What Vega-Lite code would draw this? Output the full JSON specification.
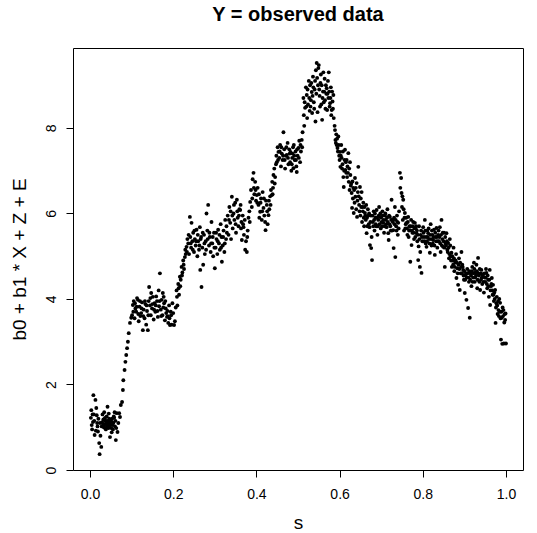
{
"$schema": "https://vega.github.io/schema/vega-lite/v6.json",
"width": 450, "height": 422,
"autosize": {"type": "none"},
"padding": {"left": 73, "top": 48, "right": 14, "bottom": 63},
"background": "white",
"title": {"text": "Y = observed data", "fontSize": 20, "fontWeight": "bold", "font": "Liberation Sans", "color": "black", "anchor": "middle", "frame": "group", "offset": 7, "baseline": "alphabetic"},
"config": {"view": {"stroke": "black", "strokeWidth": 1}, "axis": {"grid": false, "domain": false, "tickColor": "black", "tickSize": 7, "labelFont": "Liberation Sans", "labelFontSize": 14, "labelColor": "black", "titleFont": "Liberation Sans", "titleFontSize": 19, "titleFontWeight": "normal", "titleColor": "black", "labelOverlap": false, "labelBound": false, "labelFlush": false}},
"data": {"values": [
{"s":0.002,"y":1.22},{"s":0.004,"y":1.05},{"s":0.005,"y":0.95},{"s":0.006,"y":1.30},{"s":0.008,"y":1.75},{"s":0.010,"y":1.15},{"s":0.011,"y":0.82},{"s":0.013,"y":1.64},{"s":0.014,"y":0.92},{"s":0.015,"y":1.45},{"s":0.016,"y":1.28},{"s":0.018,"y":1.02},{"s":0.020,"y":1.20},{"s":0.022,"y":0.63},{"s":0.023,"y":0.37},{"s":0.024,"y":1.10},{"s":0.025,"y":0.80},{"s":0.027,"y":0.54},{"s":0.028,"y":1.02},{"s":0.030,"y":1.30},{"s":0.031,"y":1.08},{"s":0.032,"y":1.18},{"s":0.033,"y":1.00},{"s":0.034,"y":1.35},{"s":0.035,"y":1.18},{"s":0.036,"y":0.98},{"s":0.037,"y":1.15},{"s":0.038,"y":1.08},{"s":0.039,"y":1.12},{"s":0.040,"y":1.25},{"s":0.041,"y":1.02},{"s":0.042,"y":1.48},{"s":0.043,"y":1.05},{"s":0.044,"y":1.12},{"s":0.045,"y":1.32},{"s":0.046,"y":1.00},{"s":0.047,"y":1.10},{"s":0.048,"y":0.77},{"s":0.050,"y":1.15},{"s":0.051,"y":0.98},{"s":0.052,"y":0.88},{"s":0.053,"y":1.20},{"s":0.054,"y":1.05},{"s":0.055,"y":0.95},{"s":0.056,"y":1.10},{"s":0.057,"y":1.25},{"s":0.058,"y":1.22},{"s":0.060,"y":1.02},{"s":0.062,"y":0.70},{"s":0.064,"y":1.33},{"s":0.066,"y":0.89},{"s":0.068,"y":1.10},{"s":0.070,"y":1.33},{"s":0.072,"y":1.24},{"s":0.074,"y":1.52},{"s":0.077,"y":1.59},{"s":0.079,"y":1.87},{"s":0.080,"y":2.10},{"s":0.083,"y":2.34},{"s":0.085,"y":2.53},{"s":0.087,"y":2.69},{"s":0.089,"y":2.85},{"s":0.091,"y":3.00},{"s":0.093,"y":3.20},{"s":0.096,"y":3.44},{"s":0.099,"y":3.56},
{"s":0.029,"y":1.12},{"s":0.034,"y":1.05},{"s":0.036,"y":1.22},{"s":0.038,"y":0.95},{"s":0.040,"y":1.10},{"s":0.042,"y":1.15},{"s":0.044,"y":0.98},{"s":0.046,"y":1.20},{"s":0.049,"y":1.05},{"s":0.052,"y":1.12},{"s":0.017,"y":1.10},{"s":0.019,"y":0.90},{"s":0.009,"y":1.30},{"s":0.003,"y":1.40},{"s":0.007,"y":1.12},{"s":0.059,"y":1.35},{"s":0.061,"y":1.15},{"s":0.063,"y":0.98},
{"s":0.101,"y":3.62},{"s":0.103,"y":3.86},{"s":0.105,"y":3.95},{"s":0.107,"y":3.55},{"s":0.109,"y":3.78},{"s":0.111,"y":3.70},{"s":0.113,"y":4.02},{"s":0.115,"y":3.98},{"s":0.117,"y":3.48},{"s":0.119,"y":3.82},{"s":0.121,"y":3.60},{"s":0.123,"y":3.67},{"s":0.125,"y":3.92},{"s":0.127,"y":3.27},{"s":0.129,"y":3.75},{"s":0.131,"y":3.55},{"s":0.133,"y":3.88},{"s":0.135,"y":3.40},{"s":0.137,"y":3.72},{"s":0.139,"y":3.27},{"s":0.141,"y":3.95},{"s":0.142,"y":4.28},{"s":0.144,"y":3.85},{"s":0.146,"y":3.62},{"s":0.147,"y":4.14},{"s":0.149,"y":3.78},{"s":0.151,"y":4.05},{"s":0.153,"y":3.52},{"s":0.155,"y":3.90},{"s":0.157,"y":3.70},{"s":0.159,"y":4.06},{"s":0.161,"y":3.95},{"s":0.163,"y":3.58},{"s":0.165,"y":4.20},{"s":0.166,"y":3.83},{"s":0.168,"y":4.60},{"s":0.170,"y":3.75},{"s":0.172,"y":3.98},{"s":0.174,"y":3.62},{"s":0.175,"y":4.14},{"s":0.177,"y":4.05},{"s":0.178,"y":3.90},{"s":0.180,"y":3.50},{"s":0.182,"y":3.78},{"s":0.183,"y":3.67},{"s":0.185,"y":3.58},{"s":0.187,"y":3.60},{"s":0.188,"y":3.44},{"s":0.190,"y":3.85},{"s":0.192,"y":3.39},{"s":0.194,"y":3.70},{"s":0.196,"y":3.40},{"s":0.198,"y":3.90},{"s":0.200,"y":3.67},{"s":0.202,"y":3.39},{"s":0.204,"y":3.48},{"s":0.206,"y":3.80},
{"s":0.104,"y":3.70},{"s":0.108,"y":3.90},{"s":0.112,"y":3.82},{"s":0.116,"y":3.65},{"s":0.120,"y":3.95},{"s":0.124,"y":3.78},{"s":0.128,"y":3.60},{"s":0.132,"y":3.95},{"s":0.136,"y":3.85},{"s":0.140,"y":3.62},{"s":0.145,"y":4.02},{"s":0.150,"y":3.88},{"s":0.154,"y":3.75},{"s":0.158,"y":3.85},{"s":0.162,"y":3.72},{"s":0.167,"y":3.95},{"s":0.171,"y":3.60},{"s":0.176,"y":3.80},{"s":0.181,"y":3.95},{"s":0.186,"y":3.72},{"s":0.191,"y":3.55},{"s":0.195,"y":3.62},
{"s":0.208,"y":4.20},{"s":0.210,"y":3.85},{"s":0.212,"y":4.35},{"s":0.214,"y":4.10},{"s":0.216,"y":4.52},{"s":0.218,"y":4.45},{"s":0.220,"y":4.75},{"s":0.222,"y":4.62},{"s":0.224,"y":4.90},{"s":0.226,"y":4.70},{"s":0.228,"y":4.98},{"s":0.230,"y":5.05},{"s":0.232,"y":5.22},{"s":0.234,"y":5.40},
{"s":0.209,"y":4.05},{"s":0.213,"y":4.25},{"s":0.217,"y":4.30},{"s":0.221,"y":4.55},{"s":0.225,"y":4.80},{"s":0.229,"y":5.15},{"s":0.233,"y":5.10},
{"s":0.236,"y":5.30},{"s":0.238,"y":5.05},{"s":0.240,"y":5.92},{"s":0.241,"y":5.45},{"s":0.243,"y":5.20},{"s":0.244,"y":5.78},{"s":0.246,"y":5.35},{"s":0.248,"y":5.55},{"s":0.250,"y":5.10},{"s":0.252,"y":5.40},{"s":0.254,"y":5.25},{"s":0.256,"y":5.62},{"s":0.258,"y":5.00},{"s":0.260,"y":5.35},{"s":0.262,"y":5.15},{"s":0.264,"y":5.68},{"s":0.265,"y":4.68},{"s":0.267,"y":5.45},{"s":0.268,"y":4.28},{"s":0.270,"y":5.20},{"s":0.272,"y":4.80},{"s":0.274,"y":5.50},{"s":0.276,"y":5.05},{"s":0.278,"y":5.35},{"s":0.280,"y":6.00},{"s":0.282,"y":5.60},{"s":0.284,"y":6.20},{"s":0.286,"y":5.25},{"s":0.288,"y":5.45},{"s":0.290,"y":5.10},{"s":0.292,"y":5.80},{"s":0.294,"y":5.30},{"s":0.296,"y":5.00},{"s":0.298,"y":5.55},{"s":0.300,"y":4.72},{"s":0.302,"y":5.20},{"s":0.304,"y":5.40},{"s":0.306,"y":5.05},{"s":0.308,"y":5.62},{"s":0.310,"y":5.30},{"s":0.312,"y":5.15},{"s":0.314,"y":5.75},{"s":0.316,"y":5.45},{"s":0.317,"y":4.87},{"s":0.319,"y":5.25},{"s":0.321,"y":5.60},{"s":0.323,"y":5.10},{"s":0.325,"y":5.85},{"s":0.327,"y":5.40},{"s":0.329,"y":5.55},
{"s":0.237,"y":5.50},{"s":0.242,"y":5.30},{"s":0.247,"y":5.15},{"s":0.251,"y":5.60},{"s":0.255,"y":5.35},{"s":0.259,"y":5.50},{"s":0.263,"y":5.25},{"s":0.266,"y":5.40},{"s":0.271,"y":5.55},{"s":0.275,"y":5.30},{"s":0.279,"y":5.15},{"s":0.283,"y":5.40},{"s":0.287,"y":5.55},{"s":0.291,"y":5.30},{"s":0.295,"y":5.45},{"s":0.299,"y":5.20},{"s":0.303,"y":5.55},{"s":0.307,"y":5.35},{"s":0.311,"y":5.50},{"s":0.315,"y":5.20},{"s":0.320,"y":5.45},{"s":0.324,"y":5.30},{"s":0.328,"y":5.70},
{"s":0.331,"y":5.95},{"s":0.333,"y":5.50},{"s":0.335,"y":6.15},{"s":0.337,"y":5.78},{"s":0.339,"y":5.40},{"s":0.341,"y":6.39},{"s":0.343,"y":5.65},{"s":0.345,"y":6.00},{"s":0.347,"y":5.85},{"s":0.349,"y":6.25},{"s":0.351,"y":5.55},{"s":0.353,"y":6.32},{"s":0.355,"y":5.90},{"s":0.357,"y":5.70},{"s":0.359,"y":6.10},{"s":0.361,"y":6.08},{"s":0.362,"y":6.20},{"s":0.364,"y":5.80},{"s":0.365,"y":5.38},{"s":0.367,"y":5.95},{"s":0.369,"y":5.68},{"s":0.370,"y":5.50},{"s":0.372,"y":5.85},{"s":0.373,"y":5.15},{"s":0.375,"y":5.35},{"s":0.377,"y":5.10},{"s":0.379,"y":5.60},{"s":0.381,"y":5.90},{"s":0.383,"y":6.05},{"s":0.385,"y":6.27},{"s":0.387,"y":6.55},{"s":0.389,"y":6.15},{"s":0.391,"y":6.80},{"s":0.393,"y":6.95},{"s":0.395,"y":6.45},{"s":0.397,"y":6.74},{"s":0.399,"y":6.30},{"s":0.401,"y":6.43},{"s":0.403,"y":6.60},{"s":0.405,"y":6.20},{"s":0.407,"y":5.90},{"s":0.409,"y":6.04},{"s":0.411,"y":6.35},{"s":0.413,"y":5.85},{"s":0.415,"y":6.50},{"s":0.417,"y":6.13},{"s":0.419,"y":5.95},{"s":0.421,"y":5.80},{"s":0.422,"y":5.61},{"s":0.423,"y":6.30},{"s":0.425,"y":6.20},{"s":0.427,"y":5.75},{"s":0.429,"y":5.96},{"s":0.431,"y":6.10},{"s":0.433,"y":6.40},{"s":0.435,"y":6.55},{"s":0.437,"y":6.43},{"s":0.438,"y":6.74},{"s":0.440,"y":6.60},{"s":0.441,"y":6.90},{"s":0.443,"y":7.05},{"s":0.445,"y":6.85},
{"s":0.334,"y":5.85},{"s":0.338,"y":6.05},{"s":0.342,"y":5.95},{"s":0.346,"y":6.20},{"s":0.350,"y":5.75},{"s":0.354,"y":6.05},{"s":0.358,"y":5.95},{"s":0.363,"y":5.65},{"s":0.368,"y":5.75},{"s":0.378,"y":5.45},{"s":0.384,"y":5.80},{"s":0.390,"y":6.35},{"s":0.394,"y":6.60},{"s":0.398,"y":6.55},{"s":0.402,"y":6.25},{"s":0.406,"y":6.45},{"s":0.410,"y":6.25},{"s":0.414,"y":6.05},{"s":0.418,"y":6.35},{"s":0.426,"y":6.05},{"s":0.430,"y":6.30},{"s":0.434,"y":6.20},{"s":0.439,"y":6.45},{"s":0.444,"y":6.70},
{"s":0.447,"y":7.15},{"s":0.449,"y":7.20},{"s":0.451,"y":7.55},{"s":0.453,"y":7.44},{"s":0.455,"y":7.30},{"s":0.457,"y":7.60},{"s":0.459,"y":7.10},{"s":0.461,"y":7.40},{"s":0.463,"y":7.25},{"s":0.465,"y":7.90},{"s":0.467,"y":7.50},{"s":0.469,"y":7.05},{"s":0.471,"y":7.35},{"s":0.473,"y":7.37},{"s":0.475,"y":7.65},{"s":0.477,"y":7.15},{"s":0.479,"y":7.50},{"s":0.481,"y":7.20},{"s":0.482,"y":7.44},{"s":0.484,"y":7.00},{"s":0.486,"y":7.30},{"s":0.488,"y":7.55},{"s":0.489,"y":7.06},{"s":0.490,"y":7.60},{"s":0.492,"y":7.25},{"s":0.494,"y":7.45},{"s":0.496,"y":7.10},{"s":0.497,"y":6.97},{"s":0.499,"y":7.35},{"s":0.501,"y":7.53},{"s":0.503,"y":7.70},{"s":0.505,"y":7.20},{"s":0.507,"y":7.45},{"s":0.509,"y":7.72},{"s":0.511,"y":7.90},
{"s":0.448,"y":7.35},{"s":0.452,"y":7.25},{"s":0.456,"y":7.45},{"s":0.460,"y":7.55},{"s":0.464,"y":7.35},{"s":0.468,"y":7.25},{"s":0.472,"y":7.55},{"s":0.476,"y":7.30},{"s":0.480,"y":7.40},{"s":0.485,"y":7.15},{"s":0.487,"y":7.40},{"s":0.491,"y":7.35},{"s":0.495,"y":7.25},{"s":0.498,"y":7.50},{"s":0.502,"y":7.30},{"s":0.506,"y":7.60},{"s":0.510,"y":7.55},
{"s":0.513,"y":8.70},{"s":0.514,"y":8.30},{"s":0.515,"y":8.05},{"s":0.517,"y":8.47},{"s":0.519,"y":8.95},{"s":0.521,"y":8.77},{"s":0.522,"y":8.23},{"s":0.524,"y":8.55},{"s":0.526,"y":9.10},{"s":0.528,"y":8.40},{"s":0.529,"y":9.00},{"s":0.531,"y":8.65},{"s":0.533,"y":8.84},{"s":0.534,"y":8.35},{"s":0.536,"y":9.20},{"s":0.538,"y":8.60},{"s":0.540,"y":8.90},{"s":0.542,"y":8.15},{"s":0.543,"y":9.35},{"s":0.545,"y":9.52},{"s":0.546,"y":9.17},{"s":0.547,"y":8.37},{"s":0.549,"y":9.40},{"s":0.550,"y":9.47},{"s":0.552,"y":8.75},{"s":0.554,"y":9.05},{"s":0.556,"y":8.55},{"s":0.557,"y":9.00},{"s":0.558,"y":8.19},{"s":0.560,"y":8.85},{"s":0.561,"y":9.30},{"s":0.562,"y":8.60},{"s":0.564,"y":9.15},{"s":0.566,"y":8.45},{"s":0.568,"y":8.80},{"s":0.569,"y":8.93},{"s":0.570,"y":8.42},{"s":0.572,"y":9.10},{"s":0.573,"y":8.70},{"s":0.574,"y":9.30},{"s":0.576,"y":8.50},{"s":0.577,"y":8.58},{"s":0.579,"y":8.95},{"s":0.581,"y":8.42},{"s":0.583,"y":8.62},{"s":0.585,"y":8.77},{"s":0.586,"y":8.23},
{"s":0.516,"y":8.60},{"s":0.520,"y":8.50},{"s":0.523,"y":8.90},{"s":0.527,"y":8.70},{"s":0.530,"y":8.50},{"s":0.532,"y":9.05},{"s":0.535,"y":8.75},{"s":0.537,"y":8.95},{"s":0.539,"y":8.45},{"s":0.541,"y":9.10},{"s":0.544,"y":8.80},{"s":0.548,"y":9.00},{"s":0.551,"y":8.90},{"s":0.553,"y":8.50},{"s":0.555,"y":9.25},{"s":0.559,"y":8.70},{"s":0.563,"y":8.85},{"s":0.565,"y":8.65},{"s":0.567,"y":9.00},{"s":0.571,"y":8.80},{"s":0.575,"y":8.85},{"s":0.578,"y":8.70},{"s":0.580,"y":8.30},{"s":0.582,"y":8.85},{"s":0.584,"y":8.45},
{"s":0.588,"y":8.05},{"s":0.589,"y":7.95},{"s":0.590,"y":7.72},{"s":0.592,"y":7.85},{"s":0.593,"y":7.60},{"s":0.595,"y":7.53},{"s":0.597,"y":7.80},{"s":0.599,"y":7.35},{"s":0.601,"y":7.44},{"s":0.602,"y":7.09},{"s":0.604,"y":7.60},{"s":0.605,"y":7.30},{"s":0.607,"y":7.15},{"s":0.609,"y":6.85},{"s":0.610,"y":6.62},{"s":0.612,"y":7.25},{"s":0.613,"y":7.49},{"s":0.614,"y":7.02},{"s":0.616,"y":6.95},{"s":0.617,"y":7.25},{"s":0.619,"y":7.10},{"s":0.621,"y":7.41},{"s":0.622,"y":6.74},{"s":0.624,"y":6.55},{"s":0.625,"y":7.20},{"s":0.626,"y":6.90},{"s":0.628,"y":6.70},{"s":0.629,"y":6.48},{"s":0.630,"y":6.13},{"s":0.632,"y":6.35},{"s":0.633,"y":6.60},{"s":0.634,"y":6.01},{"s":0.636,"y":6.25},{"s":0.637,"y":6.83},{"s":0.638,"y":6.39},{"s":0.640,"y":6.10},{"s":0.641,"y":6.71},{"s":0.642,"y":5.92},{"s":0.644,"y":6.50},{"s":0.645,"y":7.09},{"s":0.647,"y":6.20},{"s":0.649,"y":6.62},{"s":0.650,"y":5.95},{"s":0.652,"y":6.15},{"s":0.654,"y":5.80},{"s":0.656,"y":6.05},{"s":0.657,"y":6.25},{"s":0.659,"y":5.70},{"s":0.661,"y":6.01},{"s":0.663,"y":5.85},{"s":0.665,"y":5.54},{"s":0.666,"y":5.90},{"s":0.668,"y":6.10},{"s":0.670,"y":5.75},{"s":0.672,"y":5.68},{"s":0.673,"y":5.26},{"s":0.675,"y":5.95},{"s":0.676,"y":5.19},{"s":0.677,"y":5.45},{"s":0.678,"y":4.91},
{"s":0.591,"y":7.65},{"s":0.594,"y":7.75},{"s":0.596,"y":7.45},{"s":0.598,"y":7.60},{"s":0.600,"y":7.25},{"s":0.603,"y":7.35},{"s":0.606,"y":7.05},{"s":0.608,"y":7.45},{"s":0.611,"y":7.00},{"s":0.615,"y":7.20},{"s":0.618,"y":6.85},{"s":0.620,"y":6.95},{"s":0.623,"y":7.05},{"s":0.627,"y":6.65},{"s":0.631,"y":6.75},{"s":0.635,"y":6.55},{"s":0.639,"y":6.60},{"s":0.643,"y":6.30},{"s":0.646,"y":6.40},{"s":0.648,"y":6.05},{"s":0.651,"y":6.35},{"s":0.653,"y":6.50},{"s":0.655,"y":6.15},{"s":0.658,"y":5.90},{"s":0.660,"y":6.15},{"s":0.662,"y":5.95},{"s":0.664,"y":6.20},{"s":0.667,"y":5.70},{"s":0.669,"y":5.95},{"s":0.671,"y":6.00},{"s":0.674,"y":5.80},
{"s":0.680,"y":5.80},{"s":0.682,"y":6.05},{"s":0.684,"y":5.60},{"s":0.686,"y":5.90},{"s":0.688,"y":5.70},{"s":0.689,"y":6.08},{"s":0.691,"y":5.50},{"s":0.693,"y":5.85},{"s":0.695,"y":6.15},{"s":0.697,"y":5.92},{"s":0.699,"y":5.65},{"s":0.701,"y":5.80},{"s":0.703,"y":6.05},{"s":0.705,"y":5.78},{"s":0.707,"y":5.55},{"s":0.709,"y":5.95},{"s":0.711,"y":5.85},{"s":0.713,"y":5.68},{"s":0.715,"y":6.10},{"s":0.717,"y":5.54},{"s":0.718,"y":5.38},{"s":0.720,"y":5.75},{"s":0.721,"y":5.92},{"s":0.723,"y":5.60},{"s":0.725,"y":6.32},{"s":0.727,"y":5.85},{"s":0.729,"y":5.61},{"s":0.730,"y":5.19},{"s":0.731,"y":5.90},{"s":0.733,"y":6.15},{"s":0.734,"y":4.98},{"s":0.736,"y":5.70},{"s":0.738,"y":5.95},{"s":0.740,"y":5.50},{"s":0.741,"y":5.78},{"s":0.743,"y":6.05},{"s":0.745,"y":6.95},{"s":0.746,"y":6.60},{"s":0.748,"y":6.83},{"s":0.749,"y":6.48},{"s":0.750,"y":6.15},{"s":0.752,"y":5.85},{"s":0.753,"y":6.32},{"s":0.755,"y":5.60},{"s":0.757,"y":6.01},{"s":0.759,"y":5.75},{"s":0.761,"y":5.78},{"s":0.763,"y":5.50},{"s":0.765,"y":5.92},{"s":0.766,"y":5.45},{"s":0.768,"y":5.70},{"s":0.769,"y":5.61},{"s":0.770,"y":4.87},{"s":0.772,"y":5.85},{"s":0.773,"y":5.26},{"s":0.775,"y":5.55},{"s":0.777,"y":5.80},{"s":0.779,"y":5.40},{"s":0.781,"y":5.78},{"s":0.783,"y":5.65},{"s":0.785,"y":5.54},{"s":0.787,"y":5.35},{"s":0.789,"y":4.91},{"s":0.790,"y":5.23},{"s":0.791,"y":5.70},{"s":0.793,"y":4.75},{"s":0.794,"y":5.10},{"s":0.795,"y":5.50},{"s":0.797,"y":4.61},{"s":0.799,"y":5.35},
{"s":0.679,"y":5.95},{"s":0.681,"y":5.70},{"s":0.683,"y":5.85},{"s":0.685,"y":6.00},{"s":0.687,"y":5.75},{"s":0.690,"y":5.90},{"s":0.692,"y":5.70},{"s":0.694,"y":5.95},{"s":0.696,"y":5.75},{"s":0.698,"y":6.00},{"s":0.700,"y":5.90},{"s":0.702,"y":5.70},{"s":0.704,"y":5.95},{"s":0.706,"y":5.85},{"s":0.708,"y":5.70},{"s":0.710,"y":6.00},{"s":0.712,"y":5.75},{"s":0.714,"y":5.90},{"s":0.716,"y":5.80},{"s":0.719,"y":5.95},{"s":0.722,"y":5.70},{"s":0.724,"y":5.85},{"s":0.726,"y":5.60},{"s":0.728,"y":5.80},{"s":0.732,"y":5.75},{"s":0.735,"y":5.85},{"s":0.737,"y":5.60},{"s":0.739,"y":5.80},{"s":0.742,"y":5.65},{"s":0.751,"y":6.40},{"s":0.754,"y":6.10},{"s":0.756,"y":5.90},{"s":0.758,"y":5.65},{"s":0.760,"y":5.90},{"s":0.762,"y":5.65},{"s":0.764,"y":5.80},{"s":0.767,"y":5.60},{"s":0.771,"y":5.70},{"s":0.774,"y":5.60},{"s":0.776,"y":5.70},{"s":0.778,"y":5.55},{"s":0.780,"y":5.65},{"s":0.782,"y":5.45},{"s":0.784,"y":5.70},{"s":0.786,"y":5.60},{"s":0.788,"y":5.50},{"s":0.792,"y":5.40},{"s":0.796,"y":5.60},{"s":0.798,"y":5.45},
{"s":0.801,"y":5.68},{"s":0.803,"y":5.45},{"s":0.805,"y":5.85},{"s":0.807,"y":5.30},{"s":0.809,"y":5.22},{"s":0.811,"y":5.60},{"s":0.813,"y":5.54},{"s":0.815,"y":5.40},{"s":0.817,"y":5.08},{"s":0.819,"y":5.75},{"s":0.821,"y":5.25},{"s":0.823,"y":5.50},{"s":0.825,"y":5.38},{"s":0.827,"y":5.62},{"s":0.829,"y":5.03},{"s":0.831,"y":5.45},{"s":0.833,"y":5.66},{"s":0.835,"y":5.20},{"s":0.837,"y":5.50},{"s":0.839,"y":5.35},{"s":0.841,"y":5.68},{"s":0.843,"y":5.10},{"s":0.845,"y":5.85},{"s":0.847,"y":5.40},{"s":0.849,"y":5.22},{"s":0.851,"y":5.55},{"s":0.853,"y":4.75},{"s":0.855,"y":5.30},{"s":0.857,"y":5.54},{"s":0.859,"y":5.15},{"s":0.861,"y":5.31},{"s":0.863,"y":4.95},{"s":0.865,"y":5.40},{"s":0.867,"y":5.00},{"s":0.869,"y":5.08},
{"s":0.802,"y":5.55},{"s":0.804,"y":5.35},{"s":0.806,"y":5.60},{"s":0.808,"y":5.45},{"s":0.810,"y":5.35},{"s":0.812,"y":5.45},{"s":0.814,"y":5.65},{"s":0.816,"y":5.30},{"s":0.818,"y":5.50},{"s":0.820,"y":5.40},{"s":0.822,"y":5.60},{"s":0.824,"y":5.30},{"s":0.826,"y":5.45},{"s":0.828,"y":5.25},{"s":0.830,"y":5.55},{"s":0.832,"y":5.35},{"s":0.834,"y":5.45},{"s":0.836,"y":5.35},{"s":0.838,"y":5.60},{"s":0.840,"y":5.45},{"s":0.842,"y":5.30},{"s":0.844,"y":5.50},{"s":0.846,"y":5.25},{"s":0.848,"y":5.55},{"s":0.850,"y":5.35},{"s":0.852,"y":5.20},{"s":0.854,"y":5.45},{"s":0.856,"y":5.25},{"s":0.858,"y":5.35},{"s":0.860,"y":5.10},{"s":0.862,"y":5.20},{"s":0.864,"y":5.05},{"s":0.866,"y":5.25},{"s":0.868,"y":4.90},
{"s":0.870,"y":4.75},{"s":0.872,"y":4.90},{"s":0.874,"y":5.20},{"s":0.876,"y":4.65},{"s":0.878,"y":4.85},{"s":0.880,"y":5.05},{"s":0.881,"y":4.49},{"s":0.883,"y":4.72},{"s":0.885,"y":4.33},{"s":0.887,"y":4.95},{"s":0.889,"y":4.21},{"s":0.891,"y":4.60},{"s":0.893,"y":5.10},{"s":0.895,"y":4.80},{"s":0.897,"y":4.68},{"s":0.899,"y":4.45},{"s":0.901,"y":4.14},{"s":0.903,"y":4.55},{"s":0.905,"y":3.98},{"s":0.907,"y":4.70},{"s":0.909,"y":3.79},{"s":0.911,"y":4.40},{"s":0.913,"y":3.56},{"s":0.915,"y":4.60},{"s":0.917,"y":4.30},{"s":0.919,"y":4.75},{"s":0.921,"y":4.50},{"s":0.923,"y":4.85},{"s":0.925,"y":4.40},{"s":0.927,"y":4.62},{"s":0.929,"y":4.80},{"s":0.931,"y":4.25},{"s":0.933,"y":4.96},{"s":0.935,"y":4.55},{"s":0.937,"y":4.70},{"s":0.938,"y":4.21},{"s":0.940,"y":4.45},{"s":0.941,"y":4.68},{"s":0.943,"y":4.35},{"s":0.945,"y":4.58},{"s":0.947,"y":4.15},{"s":0.949,"y":4.50},{"s":0.950,"y":4.40},{"s":0.952,"y":4.70},{"s":0.953,"y":4.61},{"s":0.955,"y":4.25},{"s":0.957,"y":4.45},{"s":0.959,"y":4.05},{"s":0.961,"y":4.68},{"s":0.962,"y":3.86},{"s":0.964,"y":4.30},{"s":0.966,"y":4.49},{"s":0.968,"y":4.10},{"s":0.969,"y":4.33},{"s":0.971,"y":3.95},{"s":0.972,"y":4.15},{"s":0.974,"y":4.21},{"s":0.975,"y":3.44},{"s":0.976,"y":3.80},{"s":0.978,"y":4.05},{"s":0.980,"y":3.65},{"s":0.982,"y":3.74},{"s":0.984,"y":4.00},{"s":0.986,"y":3.91},{"s":0.987,"y":3.55},{"s":0.988,"y":3.05},{"s":0.990,"y":3.56},{"s":0.991,"y":2.95},{"s":0.992,"y":3.80},{"s":0.994,"y":3.74},{"s":0.995,"y":2.96},{"s":0.996,"y":3.45},{"s":0.998,"y":3.51},{"s":0.999,"y":3.66},{"s":1.000,"y":2.96},
{"s":0.871,"y":5.00},{"s":0.873,"y":4.80},{"s":0.875,"y":4.95},{"s":0.877,"y":4.75},{"s":0.879,"y":4.90},{"s":0.882,"y":4.85},{"s":0.884,"y":4.60},{"s":0.886,"y":4.80},{"s":0.888,"y":4.70},{"s":0.890,"y":4.85},{"s":0.892,"y":4.75},{"s":0.894,"y":4.60},{"s":0.896,"y":4.75},{"s":0.898,"y":4.55},{"s":0.900,"y":4.65},{"s":0.902,"y":4.45},{"s":0.904,"y":4.60},{"s":0.906,"y":4.50},{"s":0.908,"y":4.60},{"s":0.910,"y":4.50},{"s":0.912,"y":4.65},{"s":0.914,"y":4.45},{"s":0.916,"y":4.55},{"s":0.918,"y":4.65},{"s":0.920,"y":4.40},{"s":0.922,"y":4.60},{"s":0.924,"y":4.70},{"s":0.926,"y":4.50},{"s":0.928,"y":4.55},{"s":0.930,"y":4.65},{"s":0.932,"y":4.45},{"s":0.934,"y":4.60},{"s":0.936,"y":4.40},{"s":0.939,"y":4.60},{"s":0.942,"y":4.50},{"s":0.944,"y":4.55},{"s":0.946,"y":4.40},{"s":0.948,"y":4.60},{"s":0.951,"y":4.50},{"s":0.954,"y":4.35},{"s":0.956,"y":4.55},{"s":0.958,"y":4.30},{"s":0.960,"y":4.45},{"s":0.963,"y":4.20},{"s":0.965,"y":4.35},{"s":0.967,"y":4.20},{"s":0.970,"y":4.10},{"s":0.973,"y":4.00},{"s":0.977,"y":3.90},{"s":0.979,"y":3.85},{"s":0.981,"y":3.95},{"s":0.983,"y":3.60},{"s":0.985,"y":3.70},{"s":0.989,"y":3.70},{"s":0.993,"y":3.60},{"s":0.997,"y":3.65}
]},
"mark": {"type": "point", "filled": true, "size": 15, "color": "black", "opacity": 1, "shape": "circle", "strokeWidth": 0},
"encoding": {
"x": {"field": "s", "type": "quantitative", "scale": {"domain": [-0.041, 1.041], "nice": false, "zero": false}, "axis": {"values": [0, 0.2, 0.4, 0.6, 0.8, 1], "format": ".1f", "title": "s", "labelPadding": 10, "titleBaseline": "alphabetic", "titleY": 58}},
"y": {"field": "y", "type": "quantitative", "scale": {"domain": [0, 9.87], "nice": false, "zero": false}, "axis": {"values": [0, 2, 4, 6, 8], "format": "d", "title": "b0 + b1 * X + Z + E", "labelAngle": -90, "labelAlign": "center", "labelBaseline": "bottom", "labelPadding": 8, "titleX": -48, "titleBaseline": "alphabetic"}}
}
}
